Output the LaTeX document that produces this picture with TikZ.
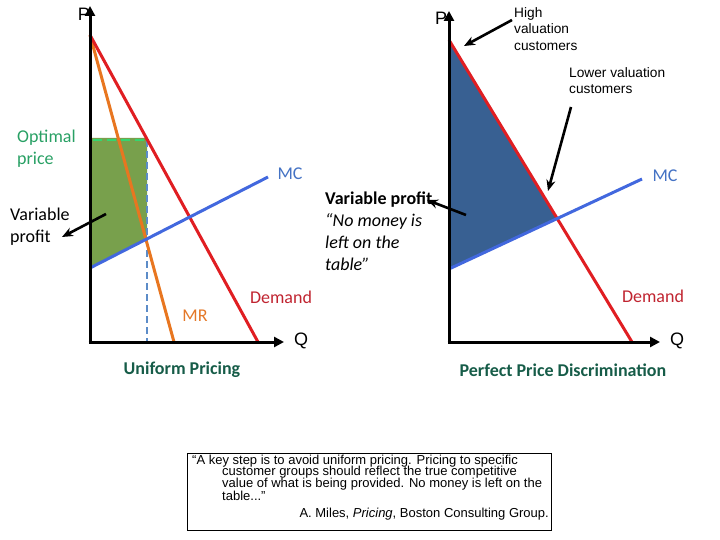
\documentclass[tikz,border=0pt]{standalone}
\usepackage{fontspec}
\setmainfont{Carlito}
\newfontfamily\arialf{Liberation Sans}
\usetikzlibrary{arrows.meta}
\definecolor{demandred}{RGB}{224,30,34}
\definecolor{mrorange}{RGB}{232,118,32}
\definecolor{mcblue}{RGB}{66,104,222}
\definecolor{profitgreen}{RGB}{120,160,76}
\definecolor{profitblue}{RGB}{56,96,146}
\definecolor{optgreen}{RGB}{52,214,112}
\definecolor{dashblue}{RGB}{92,140,200}
\definecolor{opttext}{RGB}{40,160,100}
\definecolor{mctext}{RGB}{68,114,196}
\definecolor{demtext}{RGB}{192,36,48}
\definecolor{mrtext}{RGB}{228,120,40}
\definecolor{titletext}{RGB}{22,92,72}
\tikzset{
  axis/.style={line width=3pt,-{Triangle[length=10pt,width=10pt]}},
  curve/.style={line width=3pt},
  callout/.style={line width=2.6pt,-{Stealth[length=11pt,width=9pt]}},
  lbl/.style={inner sep=0pt,font=\fontsize{18}{22}\selectfont},
  axlbl/.style={inner sep=0pt,font=\arialf\fontsize{18}{20}\selectfont},
  smalltxt/.style={inner sep=0pt,align=left,font=\arialf\fontsize{13.7}{16.5}\selectfont},
  quotetxt/.style={inner sep=0pt,anchor=west,font=\arialf\fontsize{13}{12.4}\selectfont},
}
\begin{document}
\begin{tikzpicture}[x=1pt,y=-1pt]
\useasboundingbox (0,0) rectangle (720,540);
% ---------- LEFT: uniform pricing ----------
\coordinate (lO) at (90,342);
\coordinate (lTop) at (90,6);
\coordinate (lRight) at (284,342);
\coordinate (lD1) at (90,35);
\coordinate (lD2) at (258,342);
\coordinate (lMR2) at (174,342);
\coordinate (lMC1) at (90,268);
\coordinate (lMC2) at (268,177);
\coordinate (lOptL) at (93,140);
\coordinate (lOptR) at (147,140);
\coordinate (lMRMC) at (147,239);
\coordinate (lQstar) at (147,342);
\fill[profitgreen] (91,138) -- (147,138) -- (lMRMC) -- (lMC1) -- cycle;
\draw[dashblue,line width=2.6pt,dash pattern=on 7pt off 4pt] (lOptR) -- (lQstar);
\draw[optgreen,line width=2.6pt,dash pattern=on 9pt off 5pt] (lOptL) -- (lOptR);
\draw[curve,mrorange] (lD1) -- (lMR2);
\draw[curve,demandred] (lD1) -- (lD2);
\draw[curve,mcblue] (lMC1) -- (lMC2);
\draw[axis] (lO) -- (lTop);
\draw[axis] ([xshift=-1.5pt]lO) -- (lRight);
\node[axlbl] (lP) at (84,14) {P};
\node[axlbl] (lQ) at (301,341) {Q};
\node[lbl,opttext,align=left,anchor=west] (optlbl) at (17,148.5) {Optimal\\price};
\node[lbl,align=left,anchor=west] (lvp) at (10,227) {Variable\\profit};
\coordinate (lvpTail) at (106,214);
\coordinate (lvpTip) at (62,237);
\draw[callout] (lvpTail) -- (lvpTip);
\node[lbl,mctext] (lmc) at (290,174) {MC};
\node[lbl,mrtext] (lmr) at (195,316) {MR};
\node[lbl,demtext] (ldem) at (281,297) {Demand};
\node[lbl,titletext,font=\bfseries\fontsize{18}{20}\selectfont] (uni) at (182,370) {Uniform Pricing};
% ---------- RIGHT: perfect price discrimination ----------
\coordinate (rO) at (449,342);
\coordinate (rTop) at (449,11);
\coordinate (rRight) at (660,342);
\coordinate (rD1) at (449,40);
\coordinate (rD2) at (632,342);
\coordinate (rMC1) at (449,269);
\coordinate (rMC2) at (642,179);
\coordinate (rX) at (556,218);
\fill[profitblue] (rD1) -- (rX) -- (rMC1) -- cycle;
\draw[curve,demandred] (rD1) -- (rD2);
\draw[curve,mcblue] (rMC1) -- (rMC2);
\draw[axis] (rO) -- (rTop);
\draw[axis] ([xshift=-1.5pt]rO) -- (rRight);
\node[axlbl] (rP) at (441,18) {P};
\node[axlbl] (rQ) at (677,341) {Q};
\node[lbl,mctext] (rmc) at (665,176) {MC};
\node[lbl,demtext] (rdem) at (653,296) {Demand};
\node[smalltxt,anchor=west] (high) at (514,29) {High\\valuation\\customers};
\node[smalltxt,anchor=west] (lower) at (569,80.5) {Lower valuation\\customers};
\coordinate (highTail) at (512,20);
\coordinate (highTip) at (464,46);
\draw[callout] (highTail) -- (highTip);
\coordinate (lowTail) at (571,107);
\coordinate (lowTip) at (548,191);
\draw[callout] (lowTail) -- (lowTip);
\node[lbl,align=left,anchor=west] (rvp) at (325,231.5) {\textbf{Variable profit}\\\textit{“No money is}\\\textit{left on the}\\\textit{table”}};
\coordinate (rvpTail) at (466,215);
\coordinate (rvpTip) at (427,200);
\draw[callout] (rvpTail) -- (rvpTip);
\node[lbl,titletext,font=\bfseries\fontsize{18}{20}\selectfont] (ppd) at (563,370) {Perfect Price Discrimination};
% ---------- quote box ----------
\node[draw,line width=1pt,minimum width=364pt,minimum height=77pt,inner sep=0pt] (qbox) at (369,491.5) {};
\node[quotetxt] (q1) at (192,461) {“A key step is to avoid uniform pricing. Pricing to specific};
\node[quotetxt] (q2) at (222,472.5) {customer groups should reflect the true competitive};
\node[quotetxt] (q3) at (222,484.5) {value of what is being provided. No money is left on the};
\node[quotetxt] (q4) at (222,496) {table...”};
\node[quotetxt,anchor=east] (q5) at (549,514) {A. Miles, \textit{Pricing}, Boston Consulting Group.};
\end{tikzpicture}
\end{document}
